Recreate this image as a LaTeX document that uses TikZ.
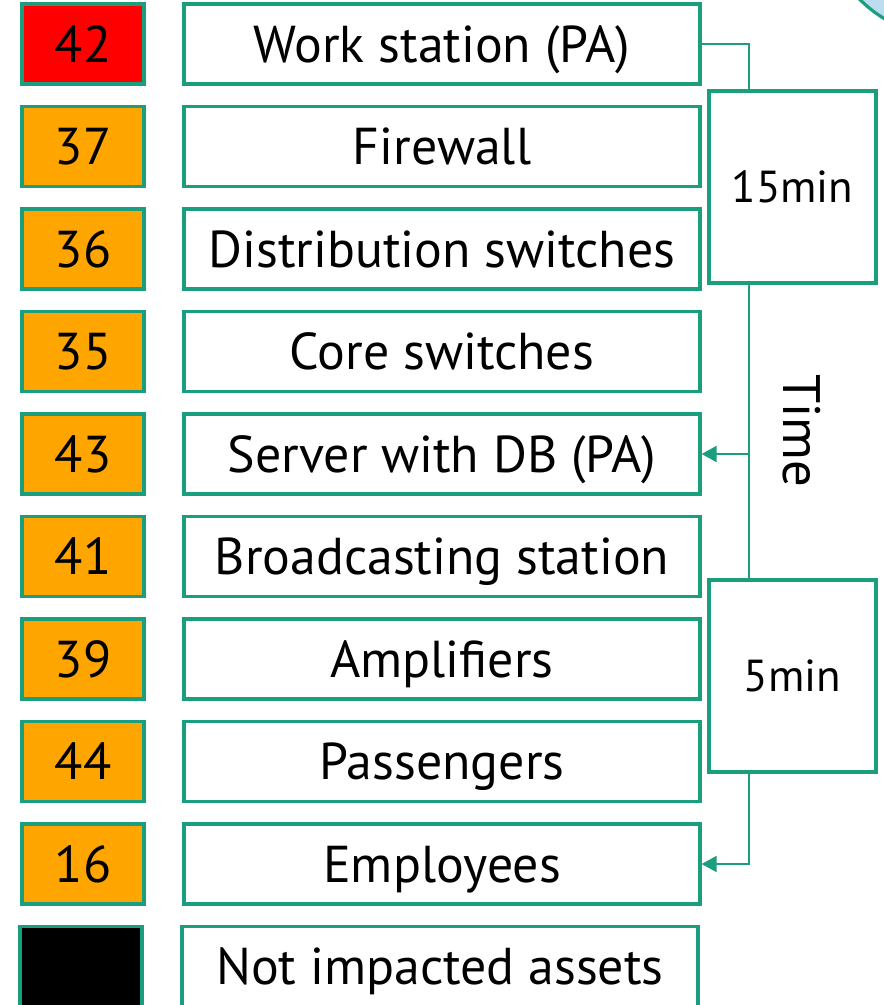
\documentclass[tikz,border=0pt]{standalone}
\usepackage{fontspec}
\setmainfont{PT Sans}
\usetikzlibrary{arrows.meta}
\definecolor{teal1}{RGB}{26,158,126}
\definecolor{orange1}{RGB}{255,165,0}
\definecolor{blue1}{RGB}{188,220,240}
\tikzset{
  idbox/.style={draw=teal1, line width=1.8pt, minimum width=2.44cm, minimum height=1.6cm, inner sep=0pt, text height=20.5pt, text depth=0pt, font=\fontsize{29.5}{32}\selectfont},
  assetbox/.style={draw=teal1, line width=1.8pt, minimum width=10.32cm, minimum height=1.6cm, inner sep=0pt, text height=20.5pt, text depth=0pt, font=\fontsize{29.5}{32}\selectfont},
  timebox/.style={draw=teal1, line width=1.8pt, minimum width=3.34cm, minimum height=3.84cm, inner sep=0pt, text height=17.8pt, text depth=0pt, font=\fontsize{25.5}{29}\selectfont},
  link/.style={draw=teal1, line width=1.3pt}
}
\begin{document}
\begin{tikzpicture}
        \useasboundingbox (0,0) rectangle (17.68,-20.1);
        \clip (0,0) rectangle (17.68,-20.1);
        % circle cut by the frame
        \path[draw=teal1, fill=blue1, line width=1.8pt] (19.0,1.8) circle (2.54);

        \node[idbox, fill=red] (n42) at (1.66,-0.88) {42};
        \node[assetbox] (ws) at (8.84,-0.88) {Work station (PA)};

        \node[idbox, fill=orange1] (n37) at (1.66,-2.93) {37};
        \node[assetbox] (fw) at (8.84,-2.93) {Firewall};

        \node[idbox, fill=orange1] (n36) at (1.66,-4.98) {36};
        \node[assetbox] (ds) at (8.84,-4.98) {Distribution switches};

        \node[idbox, fill=orange1] (n35) at (1.66,-7.03) {35};
        \node[assetbox] (cs) at (8.84,-7.03) {Core switches};

        \node[idbox, fill=orange1] (n43) at (1.66,-9.08) {43};
        \node[assetbox] (db) at (8.84,-9.08) {Server with DB (PA)};

        \node[idbox, fill=orange1] (n41) at (1.66,-11.13) {41};
        \node[assetbox] (bs) at (8.84,-11.13) {Broadcasting station};

        \node[idbox, fill=orange1] (n39) at (1.66,-13.18) {39};
        \node[assetbox] (amp) at (8.84,-13.18) {Amplifiers};

        \node[idbox, fill=orange1] (n44) at (1.66,-15.23) {44};
        \node[assetbox] (pas) at (8.84,-15.23) {Passengers};

        \node[idbox, fill=orange1] (n16) at (1.66,-17.28) {16};
        \node[assetbox] (emp) at (8.84,-17.28) {Employees};

        \node[idbox, fill=black] (nx) at (1.62,-19.33) {};
        \node[assetbox] (nia) at (8.80,-19.33) {Not impacted assets};

        \node[timebox] (t15) at (15.85,-3.74) {15min};
        \node[timebox] (t5) at (15.85,-13.52) {5min};
        \node[rotate=-90, font=\fontsize{30}{34}\selectfont] (time) at (16.04,-8.62) {Time};

        \coordinate (j1) at (14.98,-0.88);
        \coordinate (j2) at (14.98,-9.08);
        \coordinate (j3) at (14.98,-17.28);

        \path[link] (ws.east) -- (j1) -- (j1 |- t15.north);
        \path[link] (j1 |- t15.south) -- (j1 |- t5.north);
        \path[link, -{Triangle[length=8.5pt,width=9pt]}] (j2) -- (db.east);
        \path[link, -{Triangle[length=8.5pt,width=9pt]}] (j1 |- t5.south) -- (j3) -- (emp.east);
    \end{tikzpicture}
\end{document}
